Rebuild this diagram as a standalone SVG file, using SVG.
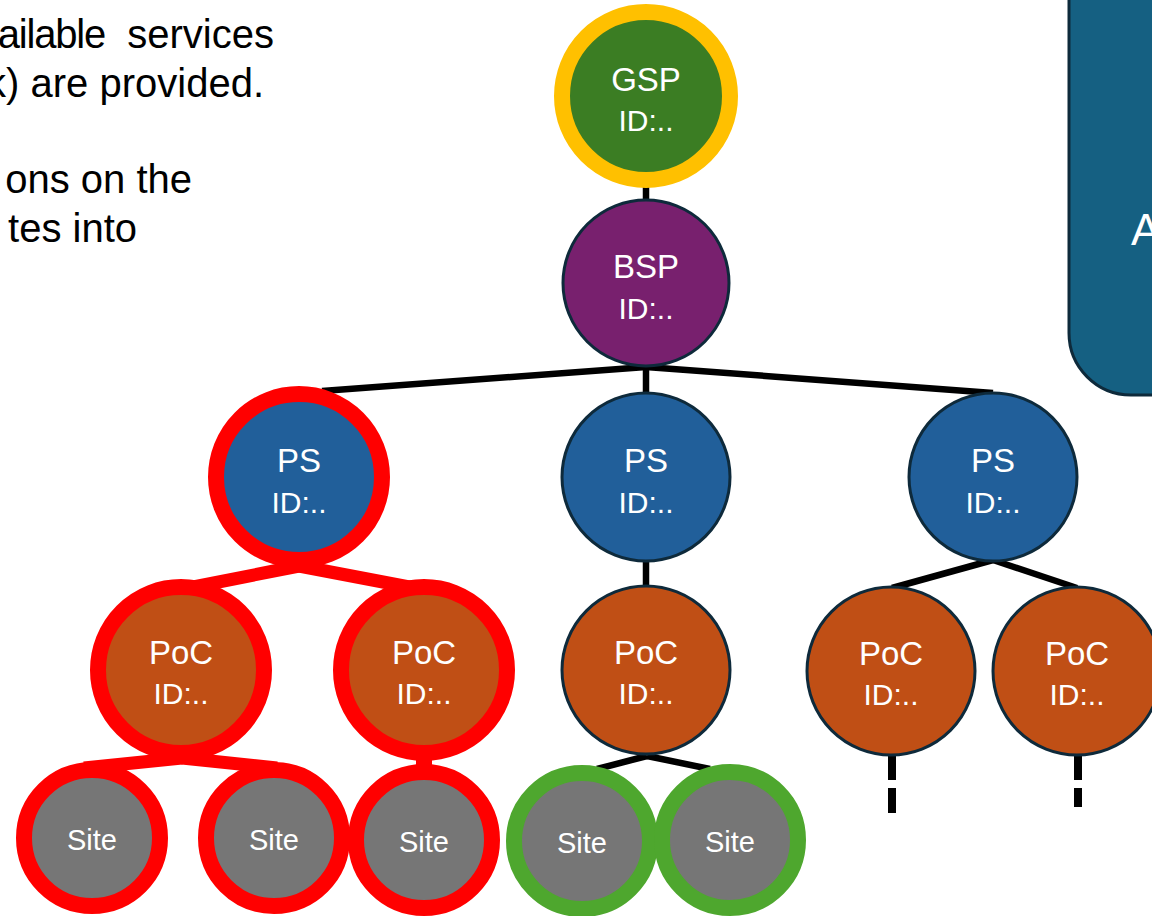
<svg xmlns="http://www.w3.org/2000/svg" width="1152" height="916" viewBox="0 0 1152 916">
<style>
.t{font-family:"Liberation Sans",Arial,sans-serif;fill:#fff;text-anchor:middle}
.h{font-size:33px}
.i{font-size:30px}
.s{font-size:29px}
.body{font-family:"Liberation Sans",Arial,sans-serif;font-size:40px;fill:#000;text-anchor:end;white-space:pre}
.ln{stroke:#000;stroke-width:6.5;fill:none}
.rl{stroke:#ff0000;stroke-width:13;fill:none}
.dash{stroke:#000;stroke-width:8;stroke-dasharray:25 8;fill:none}
.plain{stroke:#0e2a3b;stroke-width:3}
.red{stroke:#ff0000;stroke-width:16}
.grn{stroke:#4ea72e;stroke-width:16}
.ylw{stroke:#ffc000;stroke-width:16}
.gsp{fill:#3b7d23}.bsp{fill:#78206e}.ps{fill:#215f9a}.poc{fill:#c04f15}.site{fill:#767676}
</style>
<g id="text-left">
<text class="body" x="274" y="48" xml:space="preserve"><tspan style="letter-spacing:-1.2px">ailable</tspan>  services</text>
<text class="body" x="264" y="97">k) are provided.</text>
<text class="body" x="192" y="193">ons on the</text>
<text class="body" x="137" y="242">tes into</text>
</g>
<g id="box-right">
<rect x="1069" y="-80" width="160" height="475" rx="62" fill="#156082" stroke="#0e2a3b" stroke-width="3"/>
<text class="t" x="1131" y="245" style="font-size:44px;text-anchor:start">A</text>
</g>
<g id="connectors">
<line class="ln" x1="646" y1="185" x2="646" y2="203"/>
<line class="ln" x1="646" y1="367" x2="322" y2="391"/>
<line class="ln" x1="646" y1="367" x2="993" y2="393"/>
<line class="ln" x1="646" y1="364" x2="646" y2="395"/>
<line class="rl" x1="299" y1="566" x2="178" y2="590"/>
<line class="rl" x1="299" y1="566" x2="425" y2="590"/>
<line class="ln" x1="646" y1="560" x2="646" y2="588"/>
<line class="ln" x1="993" y1="560" x2="892" y2="588"/>
<line class="ln" x1="993" y1="560" x2="1077" y2="588"/>
<line class="rl" x1="182" y1="758" x2="84" y2="768"/>
<line class="rl" x1="182" y1="758" x2="277" y2="768"/>
<line class="red" x1="424" y1="755" x2="424" y2="775"/>
<line class="ln" x1="647" y1="756" x2="597" y2="769"/>
<line class="ln" x1="647" y1="756" x2="710" y2="769"/>
<line class="dash" x1="892" y1="755" x2="892" y2="813"/>
<line class="dash" x1="1078" y1="755" x2="1078" y2="807"/>
</g>
<g id="gsp"><circle class="gsp ylw" cx="646" cy="96" r="84"/><text class="t h" x="646" y="91">GSP</text><text class="t i" x="646" y="131">ID:..</text></g>
<g id="bsp"><circle class="bsp plain" cx="646" cy="283" r="83"/><text class="t h" x="646" y="278">BSP</text><text class="t i" x="646" y="319">ID:..</text></g>
<g id="ps1"><circle class="ps red" cx="299" cy="477" r="83"/><text class="t h" x="299" y="472">PS</text><text class="t i" x="299" y="513">ID:..</text></g>
<g id="ps2"><circle class="ps plain" cx="646" cy="477" r="84"/><text class="t h" x="646" y="472">PS</text><text class="t i" x="646" y="513">ID:..</text></g>
<g id="ps3"><circle class="ps plain" cx="993" cy="477" r="84"/><text class="t h" x="993" y="472">PS</text><text class="t i" x="993" y="513">ID:..</text></g>
<g id="poc1"><circle class="poc red" cx="181" cy="670" r="83"/><text class="t h" x="181" y="664">PoC</text><text class="t i" x="181" y="704">ID:..</text></g>
<g id="poc2"><circle class="poc red" cx="424" cy="670" r="83"/><text class="t h" x="424" y="664">PoC</text><text class="t i" x="424" y="704">ID:..</text></g>
<g id="poc3"><circle class="poc plain" cx="646" cy="670" r="84"/><text class="t h" x="646" y="664">PoC</text><text class="t i" x="646" y="704">ID:..</text></g>
<g id="poc4"><circle class="poc plain" cx="891" cy="671" r="84"/><text class="t h" x="891" y="665">PoC</text><text class="t i" x="891" y="705">ID:..</text></g>
<g id="poc5"><circle class="poc plain" cx="1077" cy="671" r="84"/><text class="t h" x="1077" y="665">PoC</text><text class="t i" x="1077" y="705">ID:..</text></g>
<g id="site1"><circle class="site red" cx="92" cy="838" r="68"/><text class="t s" x="92" y="850">Site</text></g>
<g id="site2"><circle class="site red" cx="274" cy="838" r="68"/><text class="t s" x="274" y="850">Site</text></g>
<g id="site3"><circle class="site red" cx="424" cy="840" r="68"/><text class="t s" x="424" y="852">Site</text></g>
<g id="site4"><circle class="site grn" cx="582" cy="841" r="68"/><text class="t s" x="582" y="853">Site</text></g>
<g id="site5"><circle class="site grn" cx="730" cy="840" r="68"/><text class="t s" x="730" y="852">Site</text></g>
</svg>
